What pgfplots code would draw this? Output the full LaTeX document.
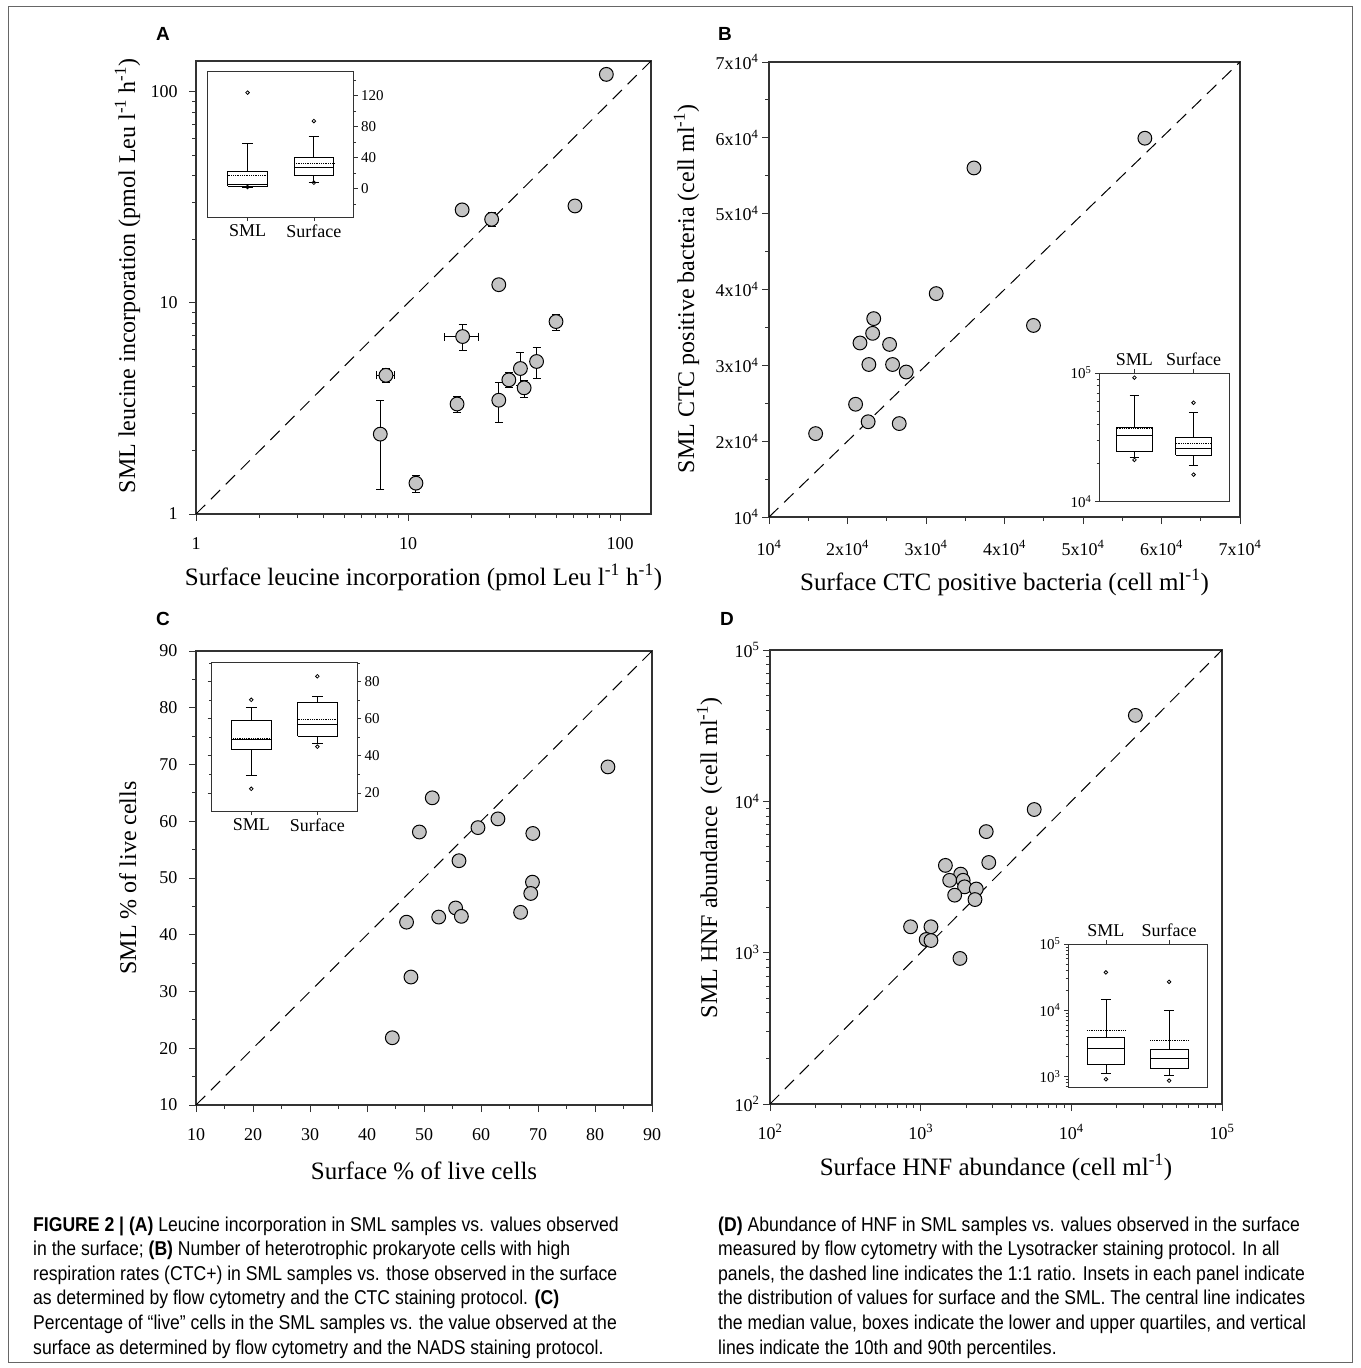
\documentclass[border=0pt]{standalone}
\usepackage{fontspec}
\setmainfont{Liberation Serif}
\newfontfamily\capfont[FakeStretch=0.88]{Liberation Sans}
\newfontfamily\letfont{Liberation Sans}
\usepackage{pgfplots}
\pgfplotsset{compat=1.18}

\pgfplotsset{
  mainax/.style={
    scale only axis, anchor=south west, clip=false,
    axis line style={line width=1.1pt, black!80},
    tick style={line width=0.9pt, black!80},
    major tick length=7pt, minor tick length=4pt,
    tick align=outside, xtick pos=left, ytick pos=left,
    ticklabel style={font=\fontsize{18}{20}\selectfont},
    xticklabel style={yshift=-13pt},
    /pgf/number format/assume math mode=true,
  },
  inset/.style={
    scale only axis, anchor=south west,
    axis background/.style={fill=white},
    axis line style={line width=0.8pt, black!80},
    tick style={line width=0.7pt, black!80},
    major tick length=4pt, minor tick length=2.5pt,
    tick align=outside,
    xmin=0.4, xmax=2.6, xtick={1,2}, xticklabels={SML,Surface},
    xticklabel style={font=\fontsize{18}{20}\selectfont},
    yticklabel style={font=\fontsize{15}{17}\selectfont},
    /pgf/number format/assume math mode=true,
  },
  dot/.style={only marks, mark=*, mark size=6.9pt,
    mark options={fill=black!23, draw=black, line width=1pt}},
  ebar/.style={error bars/.cd, error bar style={line width=1pt, black},
    error mark options={rotate=90, mark size=4pt, line width=1pt, black}},
  diag/.style={black, line width=1pt, dash pattern=on 13pt off 8pt},
  bx/.style={black, line width=0.8pt, solid},
  mn/.style={black, line width=0.8pt, densely dotted},
  ol/.style={only marks, mark=o, mark size=1.8pt, black, mark options={line width=0.8pt}},
}

% box: #1 position, #2 lower whisker, #3 lower quartile, #4 median,
%      #5 upper quartile, #6 upper whisker, #7 mean
\newcommand{\statbox}[7]{%
  \pgfmathsetmacro\bxl{#1-0.3}\pgfmathsetmacro\bxr{#1+0.3}%
  \pgfmathsetmacro\wkl{#1-0.08}\pgfmathsetmacro\wkr{#1+0.08}%
  \addplot[bx] coordinates {(\bxl,#3) (\bxr,#3) (\bxr,#5) (\bxl,#5) (\bxl,#3)};
  \addplot[bx] coordinates {(\bxl,#4) (\bxr,#4)};
  \addplot[bx] coordinates {(#1,#5) (#1,#6)};
  \addplot[bx] coordinates {(\wkl,#6) (\wkr,#6)};
  \addplot[bx] coordinates {(#1,#3) (#1,#2)};
  \addplot[bx] coordinates {(\wkl,#2) (\wkr,#2)};
  \addplot[mn] coordinates {(\bxl,#7) (\bxr,#7)};
}

\begin{document}
\begin{tikzpicture}
\useasboundingbox (0,0) rectangle (1360pt,-1368pt);
\draw[black!60, line width=1pt] (8pt,-6pt) rectangle (1352pt,-1362pt);

% ---------------- Panel A ----------------
\begin{axis}[mainax, at={(196pt,-514pt)}, width=455pt, height=453pt,
  xmode=log, ymode=log, xmin=1, xmax=140, ymin=1, ymax=140,
  xtick={1,10,100}, xticklabels={1,10,100},
  ytick={1,10,100}, yticklabels={1,10,100},
  yticklabel style={xshift=-8pt},
  minor xtick={2,3,4,5,6,7,8,9,20,30,40,50,60,70,80,90},
  minor ytick={2,3,4,5,6,7,8,9,20,30,40,50,60,70,80,90}]
\addplot[diag] coordinates {(1,1) (140,140)};
\addplot[dot] coordinates {(18.0,27.6) (26.8,12.2)};
\addplot[dot, ebar, y dir=both, y explicit] coordinates {
  (86.2,121) += (0,8) -= (0,8)
  (24.8,24.9) += (0,1.8) -= (0,2.0)
  (49.9,8.16) += (0,0.69) -= (0,0.73)
  (40.4,5.28) += (0,0.89) -= (0,0.88)
  (33.9,4.89) += (0,0.95) -= (0,0.82)
  (29.9,4.32) += (0,0.35) -= (0,0.36)
  (35.3,3.96) += (0,0.32) -= (0,0.38)
  (17.04,3.32) += (0,0.3) -= (0,0.3)
  (26.8,3.46) += (0,0.73) -= (0,0.75)
  (7.40,2.39) += (0,1.07) -= (0,1.09)
  (10.9,1.40) += (0,0.13) -= (0,0.13)
};
\addplot[dot, ebar, x dir=both, x explicit] coordinates {
  (61.3,28.8) += (3.8,0) -= (2.8,0)
};
\addplot[dot, ebar, x dir=both, x explicit, y dir=both, y explicit] coordinates {
  (18.1,6.93) += (3.5,1.0) -= (3.2,1.0)
  (7.87,4.54) += (0.75,0.35) -= (0.73,0.35)
};
\end{axis}

\begin{axis}[inset, at={(207.7pt,-217pt)}, width=146pt, height=146pt,
  ymin=-37, ymax=152, ytick={0,40,80,120}, minor ytick={-20,20,60,100,140},
  ytick pos=right, yticklabel pos=right, xtick pos=left]
\statbox{1}{1.8}{3.2}{5.5}{21.7}{57.7}{16.6}
\statbox{2}{7.4}{17.5}{26.8}{39.7}{66.9}{31.8}
\addplot[ol] coordinates {(1,124) (1,1.8) (2,87.2) (2,7.4)};
\end{axis}

% ---------------- Panel B ----------------
\begin{axis}[mainax, at={(769pt,-517pt)}, width=471pt, height=455pt,
  xmin=10000, xmax=70000, ymin=10000, ymax=70000, scaled ticks=false,
  xtick={10000,20000,30000,40000,50000,60000,70000},
  ytick={10000,20000,30000,40000,50000,60000,70000},
  minor xtick={15000,25000,35000,45000,55000,65000},
  minor ytick={15000,25000,35000,45000,55000,65000},
  xticklabels={10\textsuperscript{4},2x10\textsuperscript{4},3x10\textsuperscript{4},4x10\textsuperscript{4},5x10\textsuperscript{4},6x10\textsuperscript{4},7x10\textsuperscript{4}},
  yticklabels={10\textsuperscript{4},2x10\textsuperscript{4},3x10\textsuperscript{4},4x10\textsuperscript{4},5x10\textsuperscript{4},6x10\textsuperscript{4},7x10\textsuperscript{4}}]
\addplot[diag] coordinates {(10000,10000) (70000,70000)};
\addplot[dot] coordinates {
  (57880,59950) (36110,56030) (31300,39460) (43690,35260) (23340,36160)
  (23200,34220) (21590,32950) (25360,32760) (22720,30110) (25740,30110)
  (27480,29120) (21030,24870) (22630,22560) (26590,22320) (15940,21000)
};
\end{axis}

\begin{axis}[inset, at={(1099pt,-501.6pt)}, width=130pt, height=128.6pt,
  ymode=log, ymin=10000, ymax=100000, ytick={10000,100000},
  yticklabels={10\textsuperscript{4},10\textsuperscript{5}},
  minor ytick={20000,30000,40000,50000,60000,70000,80000,90000},
  ytick pos=left, xtick pos=right, xticklabel pos=right]
\statbox{1}{22200}{24500}{33000}{37800}{66400}{37100}
\statbox{2}{19200}{23000}{25800}{31600}{49500}{28400}
\addplot[ol] coordinates {(1,92000) (1,21100) (2,58700) (2,16200)};
\end{axis}

% ---------------- Panel C ----------------
\begin{axis}[mainax, at={(196pt,-1105pt)}, width=456pt, height=454pt,
  xmin=10, xmax=90, ymin=10, ymax=90,
  yticklabel style={xshift=-8pt},
  xtick={10,20,...,90}, ytick={10,20,...,90}, minor tick num=1]
\addplot[diag] coordinates {(10,10) (90,90)};
\addplot[dot] coordinates {
  (82.27,69.58) (51.45,64.13) (62.97,60.42) (59.47,58.88) (49.19,58.11)
  (69.09,57.85) (56.14,53.05) (69.03,49.27) (68.73,47.28) (55.55,44.72)
  (66.95,43.95) (52.58,43.12) (56.56,43.25) (46.94,42.22) (47.71,32.55)
  (44.44,21.85)
};
\end{axis}

\begin{axis}[inset, at={(211.6pt,-811pt)}, width=145.4pt, height=149pt,
  ymin=10.2, ymax=90.6, ytick={20,40,60,80}, minor ytick={10,30,50,70,90},
  ytick pos=both, yticklabel pos=right, xtick pos=left]
\statbox{1}{29.6}{43.5}{49.0}{59.0}{66.1}{49.6}
\statbox{2}{46.9}{50.6}{57.1}{68.6}{72.2}{59.8}
\addplot[ol] coordinates {(1,70.2) (1,22.2) (2,82.9) (2,44.9)};
\end{axis}

% ---------------- Panel D ----------------
\begin{axis}[mainax, at={(770pt,-1104pt)}, width=452pt, height=454pt,
  xmode=log, ymode=log, xmin=100, xmax=100000, ymin=100, ymax=100000,
  xtick={100,1000,10000,100000}, ytick={100,1000,10000,100000},
  xticklabels={10\textsuperscript{2},10\textsuperscript{3},10\textsuperscript{4},10\textsuperscript{5}},
  yticklabels={10\textsuperscript{2},10\textsuperscript{3},10\textsuperscript{4},10\textsuperscript{5}},
  xticklabel style={yshift=3pt},
  minor xtick={200,300,400,500,600,700,800,900,2000,3000,4000,5000,6000,7000,8000,9000,20000,30000,40000,50000,60000,70000,80000,90000},
  minor ytick={200,300,400,500,600,700,800,900,2000,3000,4000,5000,6000,7000,8000,9000,20000,30000,40000,50000,60000,70000,80000,90000}]
\addplot[diag] coordinates {(100,100) (100000,100000)};
\addplot[dot] coordinates {
  (26600,36980) (5670,8830) (2723,6310) (2831,3945) (1459,3775)
  (1843,3304) (1558,3008) (1914,3008) (1956,2723) (2339,2635)
  (1681,2399) (2293,2244) (857,1483) (1170,1483) (1088,1222)
  (1170,1203) (1823,916)
};
\end{axis}

\begin{axis}[inset, at={(1068pt,-1087pt)}, width=139pt, height=143pt,
  ymode=log, ymin=690, ymax=100000, ytick={1000,10000,100000},
  yticklabels={10\textsuperscript{3},10\textsuperscript{4},10\textsuperscript{5}},
  minor ytick={700,800,900,2000,3000,4000,5000,6000,7000,8000,9000,20000,30000,40000,50000,60000,70000,80000,90000},
  ytick pos=left, xtick pos=right, xticklabel pos=right]
\statbox{1}{1120}{1500}{2690}{3820}{14400}{4990}
\statbox{2}{1050}{1300}{1880}{2520}{10000}{3500}
\addplot[ol] coordinates {(1,37200) (1,903) (2,26800) (2,860)};
\end{axis}

% ---------------- axis labels ----------------
\begin{scope}[every node/.style={font=\fontsize{25}{28}\selectfont, inner sep=0pt}]
\node[anchor=base] at (423.5pt,-585pt) {Surface leucine incorporation (pmol Leu l\textsuperscript{-1} h\textsuperscript{-1})};
\node[anchor=base] at (1004.5pt,-590pt) {Surface CTC positive bacteria (cell ml\textsuperscript{-1})};
\node[anchor=base] at (424pt,-1179pt) {Surface \% of live cells};
\node[anchor=base] at (996pt,-1175pt) {Surface HNF abundance (cell ml\textsuperscript{-1})};
\end{scope}
\begin{scope}[every node/.style={font=\fontsize{24}{28}\selectfont, inner sep=0pt, anchor=base, rotate=90}]
\node at (135pt,-276pt) {SML leucine incorporation (pmol Leu l\textsuperscript{-1} h\textsuperscript{-1})};
\node at (694pt,-289pt) {SML CTC positive bacteria (cell ml\textsuperscript{-1})};
\node at (136pt,-878pt) {SML \% of live cells};
\node at (717pt,-858pt) {SML HNF abundance\ \ (cell ml\textsuperscript{-1})};
\end{scope}

% ---------------- panel letters ----------------
\begin{scope}[every node/.style={font=\letfont\bfseries\fontsize{19}{22}\selectfont, inner sep=0pt, anchor=base}]
\node at (163pt,-40pt) {A};
\node at (725pt,-40pt) {B};
\node at (163pt,-625pt) {C};
\node at (727pt,-625pt) {D};
\end{scope}

% ---------------- caption ----------------
\begin{scope}[every node/.style={font=\capfont\fontsize{20}{24}\selectfont, inner sep=0pt, anchor=base west}]
\node at (33pt,-1231pt) {\textbf{FIGURE 2 | (A)} Leucine incorporation in SML samples vs. values observed};
\node at (33pt,-1255.6pt) {in the surface; \textbf{(B)} Number of heterotrophic prokaryote cells with high};
\node at (33pt,-1280.2pt) {respiration rates (CTC+) in SML samples vs. those observed in the surface};
\node at (33pt,-1304.8pt) {as determined by flow cytometry and the CTC staining protocol. \textbf{(C)}};
\node at (33pt,-1329.4pt) {Percentage of “live” cells in the SML samples vs. the value observed at the};
\node at (33pt,-1354pt) {surface as determined by flow cytometry and the NADS staining protocol.};
\node at (718pt,-1231pt) {\textbf{(D)} Abundance of HNF in SML samples vs. values observed in the surface};
\node at (718pt,-1255.6pt) {measured by flow cytometry with the Lysotracker staining protocol. In all};
\node at (718pt,-1280.2pt) {panels, the dashed line indicates the 1:1 ratio. Insets in each panel indicate};
\node at (718pt,-1304.8pt) {the distribution of values for surface and the SML. The central line indicates};
\node at (718pt,-1329.4pt) {the median value, boxes indicate the lower and upper quartiles, and vertical};
\node at (718pt,-1354pt) {lines indicate the 10th and 90th percentiles.};
\end{scope}
\end{tikzpicture}
\end{document}
